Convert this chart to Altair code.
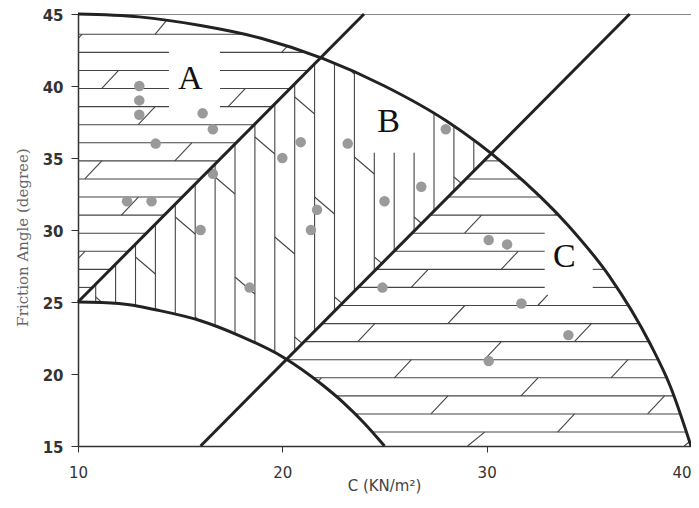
import altair as alt
import numpy as np
import pandas as pd

x_ticks = [10, 20, 30, 40]
y_ticks = [15, 20, 25, 30, 35, 40, 45]

# boundary curves
outer_x = [10, 13, 16, 19, 22, 25, 28, 31, 34, 36, 38, 39, 40]
outer_y = [45.0, 44.8, 44.2, 43.3, 41.9, 40.0, 37.6, 34.4, 30.3, 26.8, 22.1, 19.1, 15.0]
inner_x = [10, 12, 14, 16, 18, 20, 22, 23, 24, 25]
inner_y = [25.0, 24.9, 24.4, 23.7, 22.6, 21.2, 19.2, 18.0, 16.6, 15.0]
line1_x = [10, 24]
line1_y = [25, 45]
line2_x = [16, 37]
line2_y = [15, 45]

# measured soil samples
pt_c = [13.0, 13.0, 13.0, 16.1, 16.6, 13.8, 16.6, 12.4, 13.6, 20.9, 20.0, 23.2, 25.0,
        21.7, 21.4, 16.0, 28.0, 26.8, 18.4, 24.9, 30.1, 31.0, 31.7, 34.0, 30.1]
pt_phi = [40.0, 39.0, 38.0, 38.1, 37.0, 36.0, 33.9, 32.0, 32.0, 36.1, 35.0, 36.0, 32.0,
          31.4, 30.0, 30.0, 37.0, 33.0, 26.0, 26.0, 29.3, 29.0, 24.9, 22.7, 20.9]

zone_names = ["A", "B", "C"]
zone_x = [15.5, 25.2, 33.8]
zone_y = [40.5, 37.5, 28.1]

W, H = 613, 432
PX_X = W / 30.0
PX_Y = H / 30.0


def outer(x):
    return np.interp(x, outer_x, outer_y)


def inner(x):
    return np.interp(x, inner_x, inner_y, right=-1.0)


def straight(x, xs, ys):
    return ys[0] + (x - xs[0]) * (ys[1] - ys[0]) / (xs[1] - xs[0])


def zone(x, y):
    ring = (x >= 10) & (x <= 40) & (y >= 15) & (y <= 45) & (y <= outer(x)) & (y >= inner(x))
    above1 = y >= straight(x, line1_x, line1_y)
    above2 = y >= straight(x, line2_x, line2_y)
    z = np.zeros(len(x), dtype=int)
    z[ring & above1] = 1
    z[ring & ~above1 & above2] = 2
    z[ring & ~above2] = 3
    return z


# blank boxes around the zone letters (x0, x1, y0, y1)
gaps = {1: [(14.45, 16.94, 37.99, 42.85)],
        2: [(23.89, 26.82, 35.37, 46.0)],
        3: [(32.84, 35.18, 25.49, 30.35), (32.84, 41.0, 27.92, 30.35)]}


def runs(xs, ys, z):
    ok = zone(xs, ys) == z
    for x0, x1, y0, y1 in gaps[z]:
        ok &= ~((xs >= x0) & (xs <= x1) & (ys >= y0) & (ys <= y1))
    segs = []
    i, n = 0, len(ok)
    while i < n:
        if ok[i]:
            j = i
            while j + 1 < n and ok[j + 1]:
                j += 1
            if j > i:
                segs.append((xs[i], ys[i], xs[j], ys[j]))
            i = j + 1
        else:
            i += 1
    return segs


def px(X, Y):
    return 10 + X / PX_X, 45 - Y / PX_Y


segs = []
row_y = [0.0] + [20.3 + 18.08 * k for k in range(23)] + [float(H)]
xs = np.arange(10, 40.0001, 0.01)
for k in range(1, 24):
    y = px(0, row_y[k])[1]
    for z in (1, 3):
        segs += runs(xs, np.full(len(xs), y), z)

t = np.linspace(0, 1, 80)
for r in range(24):
    X = (77 - 90 * r) % 216.6 - 216.6
    while X < W:
        a = px(X, row_y[r + 1])
        b = px(X + 17, row_y[r])
        sx = a[0] + (b[0] - a[0]) * t
        sy = a[1] + (b[1] - a[1]) * t
        for z in (1, 3):
            segs += runs(sx, sy, z)
        X += 216.6

ys = np.arange(15, 45.0001, 0.01)
for c in range(21):
    X = 17.7 + 19.9 * c
    segs += runs(np.full(len(ys), px(X, 0)[0]), ys, 2)
    T = (43 + 100 * c) % 240 - 240
    while T < H:
        a = px(X, T)
        b = px(X + 19.9, T + 17)
        sx = a[0] + (b[0] - a[0]) * t
        sy = a[1] + (b[1] - a[1]) * t
        segs += runs(sx, sy, 2)
        T += 240

hatch = pd.DataFrame(segs, columns=["x", "y", "x2", "y2"])

curves = pd.concat([
    pd.DataFrame({"curve": "outer", "x": outer_x, "y": outer_y}),
    pd.DataFrame({"curve": "inner", "x": inner_x, "y": inner_y}),
    pd.DataFrame({"curve": "line1", "x": line1_x, "y": line1_y}),
    pd.DataFrame({"curve": "line2", "x": line2_x, "y": line2_y}),
])
samples = pd.DataFrame({"c": pt_c, "phi": pt_phi})
zones = pd.DataFrame({"name": zone_names, "x": zone_x, "y": zone_y})

xsc = alt.Scale(domain=[10, 40], nice=False, zero=False)
ysc = alt.Scale(domain=[15, 45], nice=False, zero=False)
x_axis = alt.Axis(values=x_ticks, grid=False, title="C (KN/m²)", tickSize=6,
                  tickColor="#333", domainColor="#333", domainWidth=1.5,
                  labelFont="DejaVu Sans", labelFontSize=15, labelColor="#333",
                  labelPadding=13, labelFlush=False,
                  labelAlign={"condition": {"test": "datum.value == 40", "value": "right"},
                              "value": "center"},
                  titleFont="DejaVu Sans", titleFontSize=15, titleColor="#444",
                  titleFontWeight="normal", titleX=306, titleY=39, titleBaseline="middle")
y_axis = alt.Axis(values=y_ticks, grid=False, title="Friction Angle (degree)", tickSize=7,
                  tickColor="#333", domainColor="#333", domainWidth=1.5,
                  labelFont="DejaVu Sans", labelFontSize=15, labelColor="#333",
                  labelFontWeight="bold", labelPadding=8, labelOffset=1.5,
                  titleFont="DejaVu Serif", titleFontSize=15, titleColor="#666",
                  titleFontWeight="normal", titleX=-56, titleY=223,
                  titleAlign="center", titleBaseline="middle", titleAngle=270)

lines = alt.Chart(hatch).mark_rule(color="#444", strokeWidth=1.1).encode(
    x=alt.X("x:Q", scale=xsc, axis=x_axis),
    y=alt.Y("y:Q", scale=ysc, axis=y_axis),
    x2="x2:Q", y2="y2:Q")

dots = alt.Chart(samples).mark_circle(size=110, color="#9a9a9a", opacity=1).encode(
    x="c:Q", y="phi:Q")

bounds = alt.Chart(curves).mark_line(color="#222", strokeWidth=3, interpolate="monotone").encode(
    x="x:Q", y="y:Q", detail="curve:N")

letters = alt.Chart(zones).mark_text(font="Liberation Serif", fontSize=34, color="#111",
                                     align="center", baseline="middle").encode(
    x="x:Q", y="y:Q", text="name:N")

chart = alt.layer(lines, dots, bounds, letters).properties(
    width=W, height=H,
    autosize=alt.AutoSizeParams(type="none"),
    padding={"left": 70, "top": 6, "right": 0, "bottom": 50}
).configure_view(stroke="#888", strokeWidth=1)

chart.save("out.html", embed_options={"renderer": "svg", "actions": False})
